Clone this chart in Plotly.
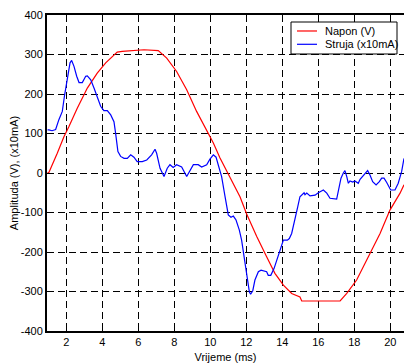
import plotly.graph_objects as go

# Voltage trace (V) over time (ms)
napon_t = [0.96, 1.04, 1.50, 1.87, 2.15, 2.61, 3.17, 3.72, 4.19, 4.56, 4.83, 5.11,
           6.32, 7.11, 7.58, 8.13, 8.69, 9.24, 9.80, 10.17, 10.54, 11.09, 11.65,
           12.02, 12.58, 13.13, 13.59, 14.06, 14.52, 14.98, 15.08, 17.21, 17.58,
           18.13, 18.78, 19.43, 19.98, 20.54, 20.76]
napon_v = [0, 2, 50, 92, 118, 164, 215, 253, 279, 295, 306, 308,
           312, 310, 291, 257, 211, 156, 109, 76, 38, -9, -60,
           -104, -161, -212, -254, -284, -305, -314, -324, -324, -305,
           -271, -212, -153, -94, -51, -30]

# Current trace (x10 mA) over time (ms)
struja_t = [0.96, 1.04, 1.21, 1.41, 1.59, 1.78, 1.91, 2.06, 2.21, 2.30, 2.43, 2.58,
            2.71, 2.89, 3.08, 3.17, 3.36, 3.54, 3.72, 3.91, 4.09, 4.28, 4.47,
            4.65, 4.74, 4.87, 5.02, 5.21, 5.39, 5.58, 5.76, 5.94, 6.22, 6.47,
            6.74, 6.93, 7.02, 7.21, 7.43, 7.61, 7.76, 7.94, 8.13, 8.41, 8.69,
            8.87, 9.06, 9.33, 9.52, 9.80, 9.98, 10.17, 10.32, 10.44, 10.63,
            10.82, 11.00, 11.15, 11.28, 11.43, 11.61, 11.74, 11.87, 12.02,
            12.17, 12.24, 12.36, 12.48, 12.67, 12.82, 13.13, 13.22, 13.36,
            13.54, 13.72, 13.91, 14.06, 14.28, 14.39, 14.52, 14.71, 14.86,
            14.98, 15.08, 15.21, 15.26, 15.36, 15.54, 15.82, 16.00, 16.28,
            16.47, 16.65, 17.02, 17.17, 17.26, 17.39, 17.48, 17.58, 17.67,
            17.76, 17.91, 18.03, 18.22, 18.32, 18.47, 18.65, 18.74, 18.87,
            19.02, 19.21, 19.39, 19.52, 19.65, 19.80, 20.02, 20.26, 20.44,
            20.63, 20.76]
struja_i = [109, 109, 107, 110, 135, 156, 198, 245, 279, 285, 270, 245,
            229, 229, 245, 246, 236, 215, 190, 169, 158, 158, 147,
            130, 101, 54, 42, 37, 37, 46, 40, 29, 29, 33,
            46, 60, 50, 12, -9, 12, 21, 14, 21, 15, -9,
            4, 21, 21, 15, 21, 35, 46, 40, 21, -9,
            -60, -106, -112, -109, -119, -144, -170, -212, -254,
            -301, -307, -298, -271, -250, -246, -250, -259, -259,
            -242, -216, -188, -170, -170, -166, -153, -119, -85,
            -60, -56, -50, -55, -51, -58, -56, -50, -43,
            -51, -64, -66, -35, -13, 0, 6, -9, -26,
            -20, -23, -20, -26, -16, -9, 0, 6, -5,
            -22, -30, -22, -13, -13, -24, -43, -43, -26,
            4, 37]

x_ticks = [2, 4, 6, 8, 10, 12, 14, 16, 18, 20]
x_tick_labels = ["2", "4", "6", "8", "10", "12", "14", "16", "18", "20"]
y_ticks = [-400, -300, -200, -100, 0, 100, 200, 300, 400]
y_tick_labels = ["-400", "-300", "-200", "-100", "0", "100", "200", "300", "400"]

series_names = ["Napon (V)", "Struja (x10mA)"]
series_colors = ["#ff0000", "#0000ff"]

FONT = "Liberation Sans, Arial, sans-serif"

fig = go.Figure()
fig.add_trace(go.Scatter(x=napon_t, y=napon_v, mode="lines", name=series_names[0],
                         line=dict(color=series_colors[0], width=1.2)))
fig.add_trace(go.Scatter(x=struja_t, y=struja_i, mode="lines", name=series_names[1],
                         line=dict(color=series_colors[1], width=1.2)))

axis_common = dict(
    showline=True, linecolor="black", linewidth=2,
    ticks="inside", ticklen=4, tickwidth=1, tickcolor="black",
    showgrid=True, gridcolor="black", gridwidth=1, griddash="7px,4px",
    zeroline=False,
    tickfont=dict(family=FONT, size=11, color="black"),
)

# Boxed legend in the upper-right corner of the axes (paper coordinates)
legend_box = dict(x0=0.6835, x1=0.9804, y0=0.8766, y1=0.9778)
legend_rows_y = [0.9494, 0.9073]
shapes = [dict(type="rect", xref="paper", yref="paper", layer="above",
               fillcolor="white", line=dict(color="black", width=1), **legend_box)]
annotations = []
for name, color, ry in zip(series_names, series_colors, legend_rows_y):
    shapes.append(dict(type="line", xref="paper", yref="paper", layer="above",
                       x0=0.7003, x1=0.7563, y0=ry, y1=ry,
                       line=dict(color=color, width=1.2)))
    annotations.append(dict(xref="paper", yref="paper", x=0.7723, y=ry,
                            xanchor="left", yanchor="middle", showarrow=False,
                            text=name, font=dict(family=FONT, size=11, color="black")))

fig.update_layout(
    width=404, height=363,
    margin=dict(l=47, r=0, t=15, b=32),
    paper_bgcolor="white", plot_bgcolor="white",
    font=dict(family=FONT, size=11, color="black"),
    showlegend=False,
    shapes=shapes,
    annotations=annotations,
    xaxis=dict(
        range=[0.93, 20.76], tickvals=x_ticks, ticktext=x_tick_labels,
        mirror="allticks",
        title=dict(text="Vrijeme (ms)", standoff=8,
                   font=dict(family=FONT, size=11, color="black")),
        **axis_common,
    ),
    yaxis=dict(
        range=[-400, 400], tickvals=y_ticks, ticktext=y_tick_labels,
        title=dict(text="Amplituda (V), (x10mA)", standoff=0,
                   font=dict(family=FONT, size=11, color="black")),
        **axis_common,
    ),
)

fig.write_html("out.html")
